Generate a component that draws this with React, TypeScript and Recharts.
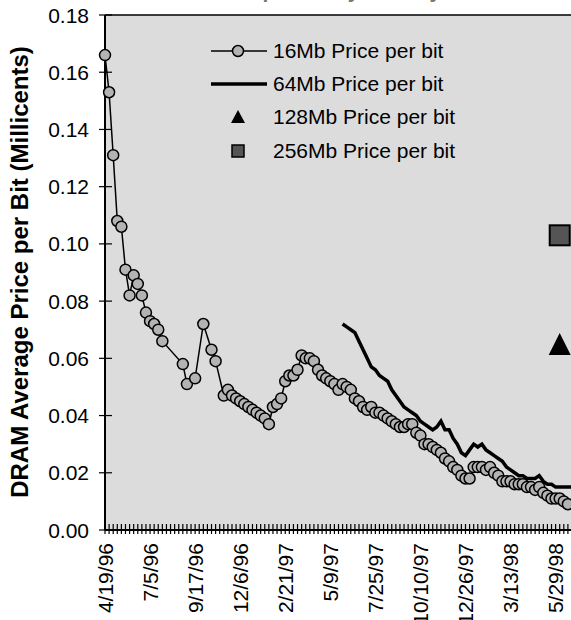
import React from 'react';
import { LineChart, Line, XAxis, YAxis, CartesianGrid, ReferenceLine, Legend } from 'recharts';

// weekly categories starting 4/19/96
const startDate = new Date(1996, 3, 19);
const weekCount = 115;
const categories: string[] = [];
for (let i = 0; i < weekCount; i++) {
  const d = new Date(startDate.getTime() + i * 7 * 86400000);
  categories.push(`${d.getMonth() + 1}/${d.getDate()}/${String(d.getFullYear()).slice(2)}`);
}

const tickLabels = ['4/19/96', '7/5/96', '9/17/96', '12/6/96', '2/21/97', '5/9/97', '7/25/97', '10/10/97', '12/26/97', '3/13/98', '5/29/98'];
const yTicks = [0, 0.02, 0.04, 0.06, 0.08, 0.1, 0.12, 0.14, 0.16, 0.18];

const price16 = [
  0.166, 0.153, 0.131, 0.108, 0.106, 0.091, 0.082, 0.089, 0.086, 0.082,
  0.076, 0.073, 0.072, 0.070, 0.066, null, null, null, null, 0.058,
  0.051, null, 0.053, null, 0.072, null, 0.063, 0.059, null, 0.047,
  0.049, 0.047, 0.046, 0.045, 0.044, 0.043, 0.042, 0.041, 0.040, 0.039,
  0.037, 0.043, 0.044, 0.046, 0.052, 0.054, 0.054, 0.056, 0.061, 0.060,
  0.060, 0.059, 0.056, 0.054, 0.053, 0.052, 0.051, 0.049, 0.051, 0.050,
  0.049, 0.046, 0.045, 0.043, 0.042, 0.043, 0.041, 0.041, 0.040, 0.039,
  0.038, 0.037, 0.036, 0.036, 0.037, 0.037, 0.034, 0.033, 0.030, 0.030,
  0.029, 0.028, 0.027, 0.025, 0.024, 0.022, 0.021, 0.019, 0.018, 0.018,
  0.022, 0.022, 0.022, 0.021, 0.022, 0.020, 0.019, 0.017, 0.017, 0.017,
  0.016, 0.016, 0.016, 0.015, 0.015, 0.014, 0.015, 0.013, 0.012, 0.011,
  0.011, 0.011, 0.010, 0.009, null,
];

const price64 = [
  ...Array(58).fill(null),
  0.072, 0.071, 0.070, 0.069, 0.066, 0.063, 0.060, 0.057, 0.056, 0.054,
  0.053, 0.052, 0.049, 0.047, 0.045, 0.043, 0.042, 0.041, 0.040, 0.038,
  0.037, 0.036, 0.035, 0.036, 0.038, 0.035, 0.035, 0.032, 0.030, 0.027,
  0.026, 0.028, 0.030, 0.029, 0.030, 0.028, 0.027, 0.026, 0.025, 0.024,
  0.022, 0.021, 0.020, 0.019, 0.019, 0.018, 0.018, 0.018, 0.019, 0.017,
  0.016, 0.016, 0.015, 0.015, 0.015, 0.015, 0.015,
];

// single samples for the newer densities
const price128 = [{ week: 111, value: 0.064 }];
const price256 = [{ week: 111, value: 0.103 }];

const rows = categories.map((week, i) => ({
  week,
  p16: price16[i],
  p64: price64[i],
  p128: price128.find((p) => p.week === i)?.value ?? null,
  p256: price256.find((p) => p.week === i)?.value ?? null,
}));

const FONT = 'Arial, "Liberation Sans", sans-serif';

const XTick = ({ x, y, index }: any) => {
  const label = index % 11 === 0 ? tickLabels[index / 11] : null;
  return (
    <g>
      <line x1={x} x2={x} y1={y - 6} y2={y + 4} stroke="#000" strokeWidth={1.2} />
      {label && (
        <text
          x={x}
          y={y + 13}
          transform={`rotate(-90 ${x} ${y + 13})`}
          textAnchor="end"
          dominantBaseline="central"
          fontSize={21}
          fontFamily={FONT}
          fill="#000"
        >
          {label}
        </text>
      )}
    </g>
  );
};

const YTick = ({ x, y, payload }: any) => (
  <g>
    <line x1={x - 6} x2={x + 7} y1={y} y2={y} stroke="#000" strokeWidth={1.2} />
    <text x={x - 16} y={y} textAnchor="end" dominantBaseline="central" fontSize={21} fontFamily={FONT} fill="#000">
      {payload.value.toFixed(2)}
    </text>
  </g>
);

const YTitle = () => (
  <text
    x={19}
    y={272}
    transform="rotate(-90 19 272)"
    textAnchor="middle"
    dominantBaseline="central"
    fontSize={24}
    fontWeight="bold"
    fontFamily={FONT}
    fill="#000"
  >
    DRAM Average Price per Bit (Millicents)
  </text>
);

const CircleDot = ({ cx, cy, value }: any) => {
  if (cy == null || value == null) return null;
  return <circle cx={cx} cy={cy} r={5.5} fill="#b3b3b3" stroke="#000" strokeWidth={1.5} />;
};

const TriangleDot = ({ cx, cy, value }: any) => {
  if (cy == null || value == null) return null;
  return <path d={`M${cx},${cy - 14} L${cx + 11},${cy + 8} L${cx - 11},${cy + 8} Z`} fill="#000" />;
};

const SquareDot = ({ cx, cy, value }: any) => {
  if (cy == null || value == null) return null;
  return <rect x={cx - 10} y={cy - 10} width={20} height={20} fill="#555" stroke="#000" strokeWidth={2} />;
};

const legendItems = [
  { name: '16Mb Price per bit', kind: 'circle' },
  { name: '64Mb Price per bit', kind: 'line' },
  { name: '128Mb Price per bit', kind: 'triangle' },
  { name: '256Mb Price per bit', kind: 'square' },
];

const LegendBox = () => (
  <div style={{ fontFamily: FONT, fontSize: 21, color: '#000' }}>
    {legendItems.map((item) => (
      <div key={item.name} style={{ display: 'flex', alignItems: 'center', height: 33.4 }}>
        <svg width={68} height={24} style={{ flex: 'none' }}>
          {item.kind === 'circle' && (
            <>
              <line x1={6} x2={62} y1={12} y2={12} stroke="#000" strokeWidth={1.5} />
              <circle cx={33} cy={12} r={5.5} fill="#b3b3b3" stroke="#000" strokeWidth={1.5} />
            </>
          )}
          {item.kind === 'line' && <line x1={6} x2={62} y1={12} y2={12} stroke="#000" strokeWidth={3.5} />}
          {item.kind === 'triangle' && <path d="M33,5 L40,18 L26,18 Z" fill="#000" />}
          {item.kind === 'square' && <rect x={27} y={6} width={12} height={12} fill="#555" stroke="#000" strokeWidth={1.5} />}
        </svg>
        <span style={{ whiteSpace: 'nowrap' }}>{item.name}</span>
      </div>
    ))}
  </div>
);

export default function App() {
  return (
    <div style={{ position: 'fixed', left: 0, top: 0, width: 571, height: 620, overflow: 'hidden', background: '#fff' }}>
      <div
        style={{
          position: 'absolute',
          right: -30,
          top: -21,
          fontFamily: FONT,
          fontSize: 21,
          fontWeight: 'bold',
          color: '#777',
          whiteSpace: 'nowrap',
        }}
      >
        Price per Bit by Density and Generation
      </div>
      <LineChart width={577} height={620} data={rows} margin={{ top: 15, right: 5, bottom: 0, left: 0 }}>
        <CartesianGrid fill="#dcdcdc" horizontal={false} vertical={false} />
        <XAxis
          dataKey="week"
          type="category"
          interval={0}
          height={90}
          tickSize={0}
          tickMargin={0}
          tickLine={false}
          axisLine={{ stroke: '#000', strokeWidth: 2 }}
          tick={<XTick />}
        />
        <YAxis
          type="number"
          domain={[0, 0.18]}
          ticks={yTicks}
          width={105}
          tickSize={0}
          tickMargin={0}
          tickLine={false}
          axisLine={{ stroke: '#000', strokeWidth: 2 }}
          tick={<YTick />}
          label={<YTitle />}
        />
        <ReferenceLine y={0.18} stroke="#000" strokeWidth={1.5} />
        <Legend
          layout="vertical"
          align="center"
          verticalAlign="middle"
          content={<LegendBox />}
          wrapperStyle={{ left: 205, top: 34, width: 320 }}
        />
        <Line
          dataKey="p16"
          stroke="#000"
          strokeWidth={1.5}
          connectNulls
          dot={<CircleDot />}
          activeDot={false}
          isAnimationActive={false}
        />
        <Line dataKey="p64" stroke="#000" strokeWidth={3.5} dot={false} activeDot={false} isAnimationActive={false} />
        <Line dataKey="p128" stroke="none" dot={<TriangleDot />} activeDot={false} isAnimationActive={false} />
        <Line dataKey="p256" stroke="none" dot={<SquareDot />} activeDot={false} isAnimationActive={false} />
      </LineChart>
    </div>
  );
}
